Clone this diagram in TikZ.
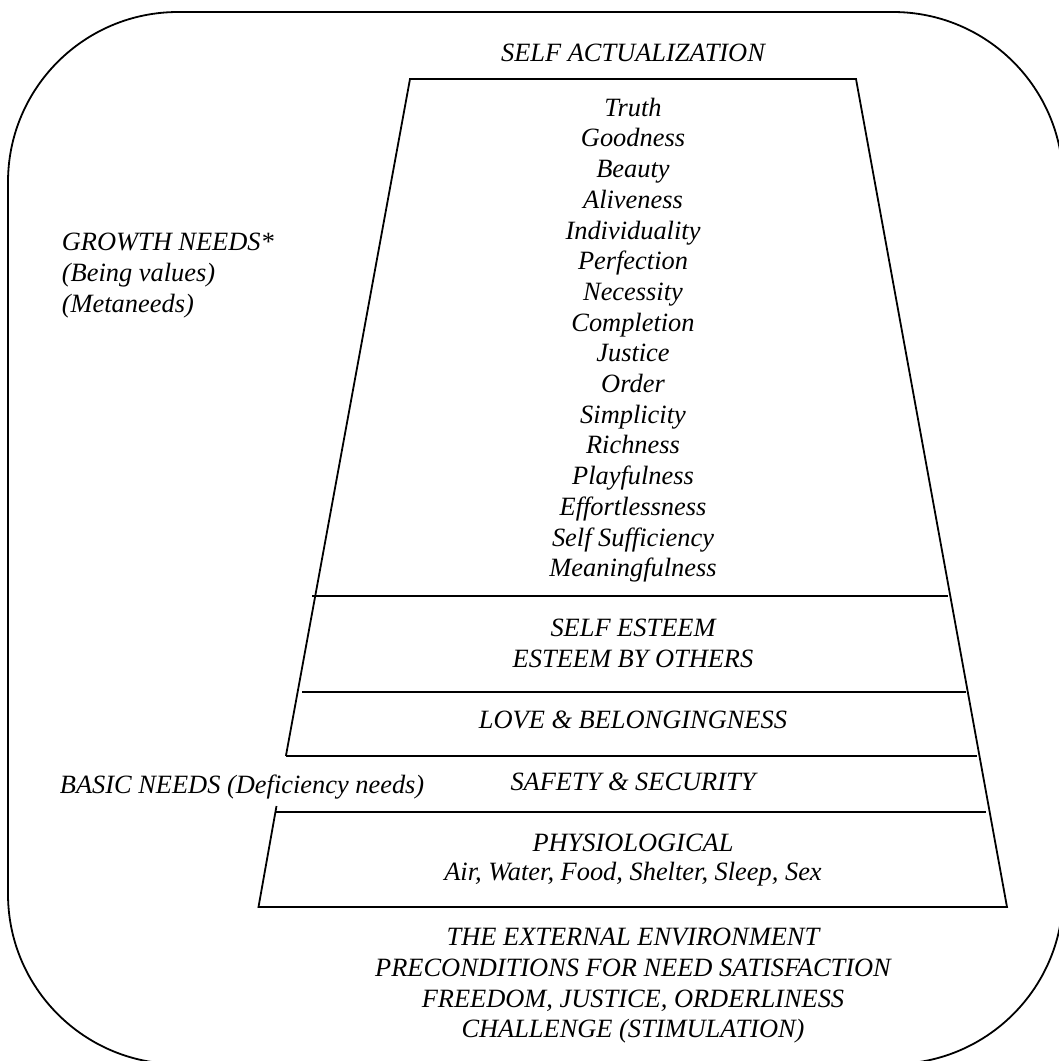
\documentclass[tikz,border=0pt]{standalone}
\usepackage{fontspec}
\setmainfont{Liberation Serif}
\begin{document}
\begin{tikzpicture}[x=1pt,y=-1pt,line width=1.8pt,line join=miter,
  lbl/.style={font=\itshape\fontsize{26.4}{30.7}\selectfont,inner sep=0pt,align=center},
  edge/.style={draw=black,line width=1.8pt}]
\useasboundingbox (0,0) rectangle (1059,1061);
\clip (0,0) rectangle (1059,1061);
% outer rounded frame
\draw[edge,rounded corners=170pt] (8,12) rectangle (1063,1064);
% pyramid corners
\coordinate (tl) at (410,79);
\coordinate (tr) at (856,79);
\coordinate (br) at (1007,907);
\coordinate (bl) at (258.5,907);
\coordinate (lgap1) at (285.9,756);
\coordinate (lgap2) at (276.5,806);
% horizontal dividers
\coordinate (a1) at (312,596);  \coordinate (a2) at (948,596);
\coordinate (b1) at (302,692);  \coordinate (b2) at (966,692);
\coordinate (c1) at (286,756);  \coordinate (c2) at (977,756);
\coordinate (d1) at (276,812);  \coordinate (d2) at (986,812);
% outline
\draw[edge] (lgap1) -- (tl) -- (tr) -- (br) -- (bl) -- (lgap2);
\draw[edge] (a1) -- (a2);
\draw[edge] (b1) -- (b2);
\draw[edge] (c1) -- (c2);
\draw[edge] (d1) -- (d2);
% texts
\node[lbl,anchor=base] (selfact) at (633,61) {SELF ACTUALIZATION};
\node[lbl,anchor=north] (values) at (633,97) {Truth\\Goodness\\Beauty\\Aliveness\\Individuality\\Perfection\\Necessity\\Completion\\Justice\\Order\\Simplicity\\Richness\\Playfulness\\Effortlessness\\Self Sufficiency\\Meaningfulness};
\node[lbl,anchor=north west,align=left] (growth) at (61,232.5) {GROWTH NEEDS*\\(Being values)\\(Metaneeds)};
\node[lbl,anchor=north] (esteem) at (633,618.5) {SELF ESTEEM\\ESTEEM BY OTHERS};
\node[lbl,anchor=base] (love) at (633,728) {LOVE \& BELONGINGNESS};
\node[lbl,anchor=base] (safety) at (633,790) {SAFETY \& SECURITY};
\node[lbl,anchor=base west] (basic) at (59,793) {BASIC NEEDS (Deficiency needs)};
\node[lbl,anchor=north] (physio) at (633,833.5) {PHYSIOLOGICAL\\[-1.7pt]Air, Water, Food, Shelter, Sleep, Sex};
\node[lbl,anchor=north] (env) at (633,927.5) {THE EXTERNAL ENVIRONMENT\\PRECONDITIONS FOR NEED SATISFACTION\\FREEDOM, JUSTICE, ORDERLINESS\\CHALLENGE (STIMULATION)};
\end{tikzpicture}
\end{document}
